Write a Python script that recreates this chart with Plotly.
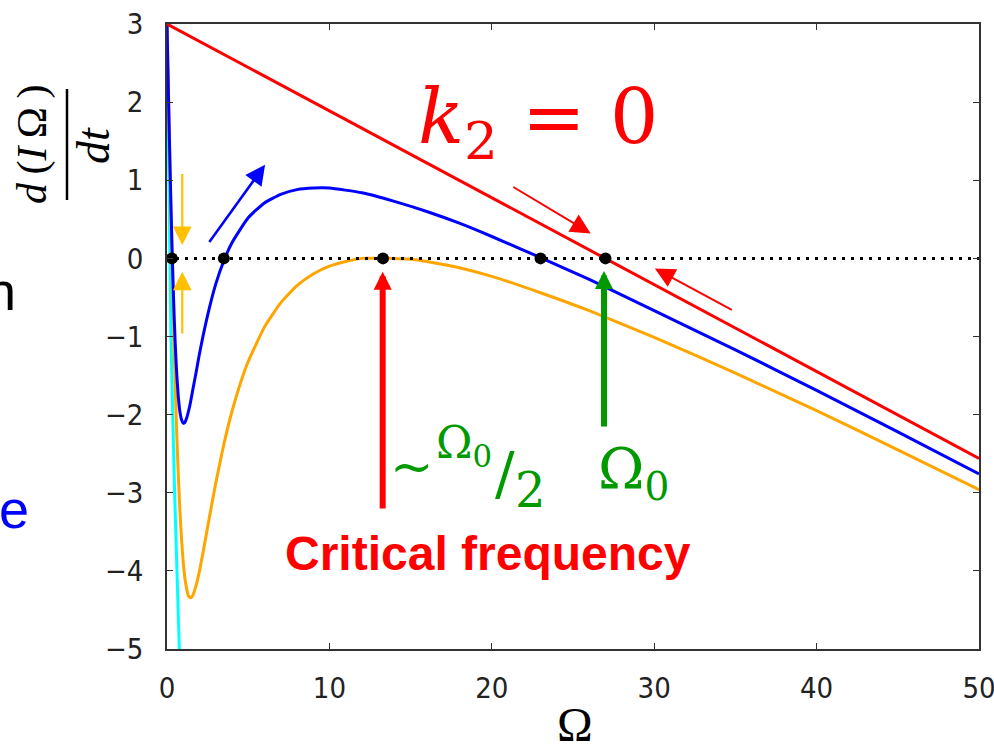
import plotly.graph_objects as go

# ---------------- data ----------------
omega_red = [0, 50]
rate_red = [3.0, -2.56]

omega_blue = [0, 0.1, 0.2, 0.3, 0.4, 0.5, 0.6, 0.7, 0.8, 0.9, 1.0, 1.1, 1.2, 1.4, 1.6, 1.8, 2.0,
              2.5, 3.0, 3.5, 4, 5, 6, 7, 8, 9, 10, 12, 14, 16, 18, 20, 23, 26, 30, 35, 40, 45, 50]
rate_blue = [3.00, 2.00, 1.05, 0.21, -0.49, -1.06, -1.48, -1.78, -1.97, -2.07, -2.11, -2.10, -2.05,
             -1.89, -1.67, -1.45, -1.22, -0.73, -0.33, -0.03, 0.20, 0.52, 0.71, 0.82, 0.88, 0.90,
             0.90, 0.84, 0.73, 0.60, 0.45, 0.28, 0.01, -0.27, -0.67, -1.17, -1.69, -2.22, -2.76]

omega_orange = [0, 0.05, 0.1, 0.2, 0.3, 0.4, 0.5, 0.6, 0.7, 0.8, 0.9, 1.0, 1.1, 1.2, 1.3, 1.4, 1.5,
                1.6, 1.8, 2.0, 2.25, 2.5, 3.0, 3.5, 4, 4.5, 5, 6, 7, 8, 9, 10, 11, 12, 13, 14, 15,
                16, 18, 20, 23, 26, 30, 35, 40, 45, 50]
rate_orange = [3.00, 2.49, 1.98, 0.98, 0.05, -0.81, -1.57, -2.24, -2.79, -3.25, -3.61, -3.89, -4.09,
               -4.22, -4.31, -4.34, -4.34, -4.31, -4.18, -4.00, -3.73, -3.44, -2.88, -2.38, -1.96,
               -1.61, -1.32, -0.88, -0.57, -0.35, -0.20, -0.10, -0.04, 0.00, 0.00, 0.00, -0.01,
               -0.04, -0.12, -0.23, -0.44, -0.67, -1.01, -1.47, -1.95, -2.45, -2.96]

omega_cyan = [0, 0.12, 0.24, 0.47, 0.76, 0.9]
rate_cyan = [3.0, 1.0, -0.96, -3.0, -5.0, -5.9]

omega_fixed = [0.3, 3.5, 13.3, 23.0, 27.0]
rate_fixed = [0, 0, 0, 0, 0]

x_ticks = [0, 10, 20, 30, 40, 50]
y_ticks = [-5, -4, -3, -2, -1, 0, 1, 2, 3]

# ---------------- layout helpers (pixel -> paper) ----------------
W, H = 994, 751
L, R, T, B = 167, 15, 24, 102


def px(x):
    return (x - L) / (W - L - R)


def py(y):
    return (H - B - y) / (H - T - B)


fig = go.Figure()
curve_w = 3
fig.add_trace(go.Scatter(x=omega_cyan, y=rate_cyan, mode="lines",
                         line=dict(color="#00FFFF", width=curve_w, shape="spline", smoothing=0.5)))
fig.add_trace(go.Scatter(x=omega_orange, y=rate_orange, mode="lines",
                         line=dict(color="#FFA500", width=curve_w, shape="spline", smoothing=0.5)))
fig.add_trace(go.Scatter(x=omega_blue, y=rate_blue, mode="lines",
                         line=dict(color="#0000FF", width=curve_w, shape="spline", smoothing=0.5)))
fig.add_trace(go.Scatter(x=omega_red, y=rate_red, mode="lines",
                         line=dict(color="#FF0000", width=curve_w)))
fig.add_trace(go.Scatter(x=[x_ticks[0], x_ticks[-1]], y=[0, 0], mode="lines",
                         line=dict(color="black", width=3, dash="3px,6px")))
fig.add_trace(go.Scatter(x=omega_fixed, y=rate_fixed, mode="markers",
                         marker=dict(color="black", size=12), cliponaxis=False))

tick_font = dict(family="Liberation Sans Narrow, DejaVu Sans Condensed, Liberation Sans",
                 size=29, color="#222")
axis_common = dict(showline=True, linecolor="#333", linewidth=1.5, mirror="ticks",
                   ticks="inside", ticklen=6, tickwidth=1.2, tickcolor="#333",
                   showgrid=False, zeroline=False, tickfont=tick_font, automargin=False,
                   ticklabeloverflow="allow")
fig.update_layout(
    width=W, height=H, autosize=False,
    margin=dict(l=L, r=R, t=T, b=B),
    paper_bgcolor="white", plot_bgcolor="white",
    showlegend=False,
    xaxis=dict(range=[0, 50], tickvals=x_ticks, ticklabelstandoff=12, **axis_common),
    yaxis=dict(range=[-5, 3], tickvals=y_ticks, ticklabelstandoff=16, **axis_common),
)

# ---------------- arrows ----------------
arrows = [
    dict(x=0.94, y=0.17, ax=0.94, ay=1.10, c="#FFC000", w=2.2, s=1.7),
    dict(x=0.94, y=-0.17, ax=0.94, ay=-0.98, c="#FFC000", w=2.2, s=1.7),
    dict(x=6.04, y=1.20, ax=2.54, ay=0.19, c="#0000FF", w=2.5, s=1.6),
    dict(x=26.09, y=0.32, ax=21.23, ay=0.925, c="#FF0000", w=2, s=2.0),
    dict(x=30.04, y=-0.13, ax=34.87, ay=-0.67, c="#FF0000", w=2, s=2.0),
    dict(x=13.28, y=-0.17, ax=13.28, ay=-3.22, c="#FF0000", w=6, s=0.6),
    dict(x=26.91, y=-0.16, ax=26.91, ay=-2.17, c="#009900", w=6, s=0.6),
]
for a in arrows:
    fig.add_annotation(x=a["x"], y=a["y"], ax=a["ax"], ay=a["ay"], xref="x", yref="y",
                       axref="x", ayref="y", text="", showarrow=True, arrowhead=2,
                       arrowsize=a["s"], arrowwidth=a["w"], arrowcolor=a["c"])

# ---------------- texts ----------------
serif = "DejaVu Serif"
green = "#009900"


def txt(x, y, text, size, color, family, angle=0, xanchor="center"):
    fig.add_annotation(x=px(x), y=py(y), xref="paper", yref="paper", text=text,
                       showarrow=False, xanchor=xanchor, yanchor="middle", textangle=angle,
                       font=dict(size=size, color=color, family=family))


txt(538, 122, "<i>k</i><sub>2</sub> = 0", 76, "#FF0000", serif)
txt(488, 553, "<b>Critical frequency</b>", 48, "#FF0000", "Liberation Sans, Arial")
txt(633, 472, "Ω<sub>0</sub>", 56, green, serif)
txt(412, 466, "~", 52, green, serif)
txt(464, 445, "Ω<sub>0</sub>", 44, green, serif)
txt(505, 474, "/", 58, green, serif)
txt(530, 490, "2", 48, green, serif)

# x-axis title and y-axis fraction label
txt(575, 724, "Ω", 48, "black", "Liberation Serif")
txt(32, 145, "<i>d</i>\u2009(<i>I</i>\u2009Ω\u2009)", 42, "black", "Liberation Serif", angle=-90)
txt(93, 146, "<i>dt</i>", 46, "black", "Liberation Serif", angle=-90)
fig.add_shape(type="line", xref="paper", yref="paper", x0=px(67), x1=px(67), y0=py(89), y1=py(200),
              line=dict(color="black", width=2.5))

# cut-off slide text at the left edge
txt(18, 291, "n", 54, "black", "Liberation Sans, Arial", xanchor="right")
txt(31, 509, "e", 54, "#0000FF", "Liberation Sans, Arial", xanchor="right")

fig.write_html("out.html", config={"displayModeBar": False},
               post_script="document.body.style.margin='0';document.body.style.overflow='hidden';")
